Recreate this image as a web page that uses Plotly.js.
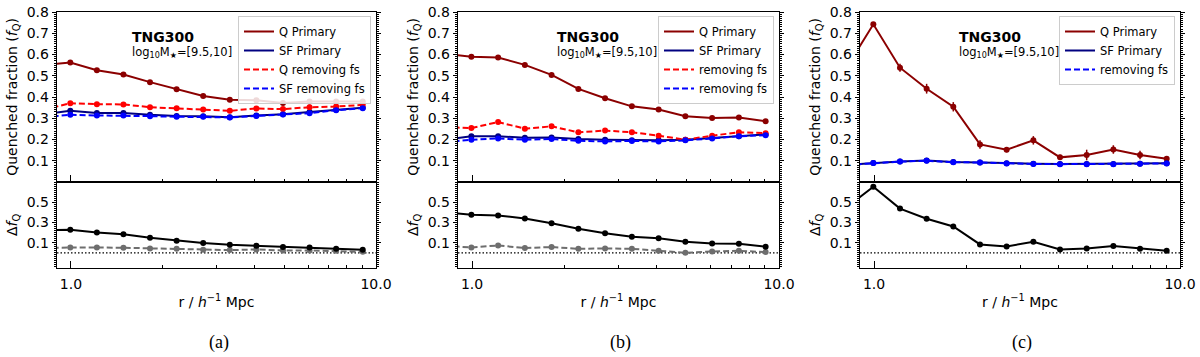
<!DOCTYPE html>
<html>
<head>
<meta charset="utf-8">
<script src="https://cdn.plot.ly/plotly-3.0.1.min.js"></script>
<style>html,body{margin:0;padding:0;background:#fff;}#chart{width:1200px;height:357px;}</style>
</head>
<body>
<div id="chart"></div>
<script>
// ---- data ----
const rBins = [0.814, 0.995, 1.216, 1.486, 1.816, 2.220, 2.713, 3.317, 4.054, 4.955, 6.056, 7.402, 9.046];

// panel (a)
const qPrimA = [0.55, 0.562, 0.526, 0.506, 0.470, 0.437, 0.405, 0.387, 0.385, 0.372, 0.379, 0.379, 0.379];
const qErrA  = [0, 0.006, 0.006, 0.006, 0.006, 0.006, 0.006, 0.006, 0.006, 0.006, 0.006, 0.006, 0.006];
const sfPrimA = [0.32, 0.335, 0.325, 0.325, 0.316, 0.311, 0.310, 0.305, 0.313, 0.319, 0.330, 0.340, 0.350];
const qRemA  = [0.34, 0.371, 0.366, 0.365, 0.352, 0.347, 0.341, 0.335, 0.346, 0.343, 0.352, 0.355, 0.363];
const sfRemA = [0.305, 0.316, 0.313, 0.313, 0.310, 0.307, 0.307, 0.304, 0.311, 0.318, 0.324, 0.338, 0.347];
const dPrimA = [0.225, 0.227, 0.200, 0.183, 0.150, 0.120, 0.097, 0.080, 0.070, 0.057, 0.053, 0.040, 0.030];
const dRemA  = [0.050, 0.053, 0.053, 0.050, 0.043, 0.040, 0.030, 0.027, 0.033, 0.023, 0.023, 0.020, 0.010];

// panel (b)
const qPrimB = [0.605, 0.589, 0.586, 0.551, 0.504, 0.438, 0.394, 0.356, 0.341, 0.309, 0.301, 0.304, 0.286];
const qErrB  = [0, 0.006, 0.006, 0.006, 0.006, 0.006, 0.006, 0.006, 0.006, 0.006, 0.006, 0.006, 0.006];
const sfPrimB = [0.200, 0.215, 0.215, 0.208, 0.210, 0.202, 0.199, 0.197, 0.196, 0.199, 0.208, 0.215, 0.224];
const qRemB  = [0.258, 0.254, 0.282, 0.251, 0.262, 0.234, 0.242, 0.234, 0.218, 0.199, 0.218, 0.234, 0.230];
const sfRemB = [0.187, 0.199, 0.205, 0.199, 0.202, 0.194, 0.191, 0.193, 0.191, 0.196, 0.205, 0.215, 0.220];
const dPrimB = [0.400, 0.377, 0.370, 0.340, 0.293, 0.237, 0.193, 0.160, 0.143, 0.110, 0.093, 0.090, 0.060];
const dRemB  = [0.070, 0.053, 0.073, 0.047, 0.057, 0.040, 0.043, 0.040, 0.020, 0.000, 0.013, 0.020, 0.007];

// panel (c)
const qPrimC = [0.54, 0.742, 0.538, 0.439, 0.354, 0.177, 0.152, 0.196, 0.116, 0.127, 0.153, 0.127, 0.109];
const qErrC  = [0, 0.008, 0.019, 0.023, 0.022, 0.020, 0.012, 0.020, 0.012, 0.025, 0.020, 0.020, 0.010];
const sfPrimC = [0.080, 0.090, 0.097, 0.101, 0.094, 0.092, 0.088, 0.086, 0.085, 0.085, 0.085, 0.086, 0.088];
const sfRemC = [0.080, 0.089, 0.096, 0.100, 0.093, 0.092, 0.087, 0.085, 0.084, 0.084, 0.084, 0.086, 0.087];
const dPrimC = [0.450, 0.653, 0.437, 0.337, 0.260, 0.083, 0.063, 0.110, 0.033, 0.043, 0.067, 0.040, 0.020];

const topTicks = [0.1, 0.2, 0.3, 0.4, 0.5, 0.6, 0.7, 0.8];
const botTicks = [0.1, 0.3, 0.5];
const xTicks = [1, 10];
const xTickText = ['1.0', '10.0'];
const xMinor = [2, 3, 4, 5, 6, 7, 8, 9];
const captions = ['(a)', '(b)', '(c)'];
const legendNames = [
  ['Q Primary', 'SF Primary', 'Q removing fs', 'SF removing fs'],
  ['Q Primary', 'SF Primary', 'removing fs', 'removing fs'],
  ['Q Primary', 'SF Primary', null, 'removing fs']
];

// ---- layout helpers ----
const W = 1200, H = 357;
const px = x => x / W;
const py = y => 1 - y / H;
const FONT = 'DejaVu Sans';
const panels = [{x0: 57, x1: 376}, {x0: 458, x1: 779}, {x0: 860, x1: 1180}];
const yTop = [py(182), py(12)];
const yBot = [py(268), py(182)];

const COL_Q = '#8b0000', COL_SF = '#000080', COL_QR = '#ff0000', COL_SFR = '#0000ff', COL_G = '#6e6e6e';
const DASH = '6px,3px';

const layout = {
  width: W, height: H,
  margin: {l: 0, r: 0, t: 0, b: 0},
  paper_bgcolor: '#fff', plot_bgcolor: '#fff',
  font: {family: FONT, size: 14, color: '#000'},
  showlegend: true,
  annotations: [], shapes: []
};

const data = [];
const panelData = [
  {q: qPrimA, qe: qErrA, sf: sfPrimA, qr: qRemA, sfr: sfRemA, d: dPrimA, dr: dRemA},
  {q: qPrimB, qe: qErrB, sf: sfPrimB, qr: qRemB, sfr: sfRemB, d: dPrimB, dr: dRemB},
  {q: qPrimC, qe: qErrC, sf: sfPrimC, qr: null, sfr: sfRemC, d: dPrimC, dr: null}
];

function addSeries(xa, ya, y, color, dash, name, lg, err) {
  data.push({
    x: rBins, y: y, xaxis: xa, yaxis: ya, type: 'scatter', mode: 'lines',
    name: name || '', legend: lg, showlegend: !!name,
    line: {color: color, width: 2, dash: dash || 'solid'}
  });
  const m = {
    x: rBins, y: y, xaxis: xa, yaxis: ya, type: 'scatter', mode: 'markers',
    showlegend: false, marker: {color: color, size: 6}
  };
  if (err) m.error_y = {type: 'data', array: err, visible: true, color: color, thickness: 1.5, width: 0};
  data.push(m);
}

panels.forEach((p, k) => {
  const it = 2 * k + 1, ib = 2 * k + 2;
  const xt = 'x' + it, yt = 'y' + it, xb = 'x' + ib, yb = 'y' + ib;
  const dom = [px(p.x0), px(p.x1)];
  const xCommon = {
    domain: dom, type: 'log', range: [Math.log10(0.9), 1],
    tickmode: 'array', tickvals: xTicks, ticktext: xTickText,
    ticks: 'inside', ticklen: 7, tickwidth: 1, tickcolor: '#000',
    minor: {tickmode: 'array', tickvals: xMinor, ticks: 'inside', ticklen: 3.5, tickwidth: 1, tickcolor: '#000'},
    showline: true, linecolor: '#000', linewidth: 1.3, mirror: true,
    showgrid: false, zeroline: false, automargin: false,
    tickfont: {family: FONT, size: 14}
  };
  layout['xaxis' + it] = Object.assign({}, xCommon, {anchor: yt, showticklabels: false});
  layout['xaxis' + ib] = Object.assign({}, xCommon, {
    anchor: yb, showticklabels: true, ticklabelstandoff: 3,
    title: {text: 'r / <i>h</i><sup>−1</sup> Mpc', font: {family: FONT, size: 14}, standoff: 6}
  });
  const yCommon = {
    ticks: 'outside', ticklen: 4, tickwidth: 1, tickcolor: '#000',
    showline: true, linecolor: '#000', linewidth: 1.3, mirror: 'ticks',
    showgrid: false, zeroline: false, automargin: false,
    tickfont: {family: FONT, size: 14}
  };
  layout['yaxis' + it] = Object.assign({}, yCommon, {
    domain: yTop, anchor: xt, range: [0, 0.8],
    tickmode: 'array', tickvals: topTicks, ticktext: topTicks.map(v => v.toFixed(1)),
    minor: {tick0: 0, dtick: 0.01, ticks: 'outside', ticklen: 2, tickwidth: 1, tickcolor: '#000'},
    title: {text: 'Quenched fraction (<i>f</i><sub>Q</sub>)', font: {family: FONT, size: 14}, standoff: 5}
  });
  layout['yaxis' + ib] = Object.assign({}, yCommon, {
    domain: yBot, anchor: xb, range: [-0.15, 0.7],
    tickmode: 'array', tickvals: botTicks, ticktext: botTicks.map(v => v.toFixed(1)),
    minor: {tick0: 0, dtick: 0.02, ticks: 'outside', ticklen: 2, tickwidth: 1, tickcolor: '#000'},
    title: {text: 'Δ<i>f</i><sub>Q</sub>', font: {family: FONT, size: 14}, standoff: 5}
  });

  const lg = k === 0 ? 'legend' : 'legend' + (k + 1);
  layout[lg] = {
    x: px(p.x1 - 5), xanchor: 'right', y: py(16), yanchor: 'top',
    bgcolor: 'rgba(255,255,255,0.85)', bordercolor: '#cccccc', borderwidth: 1,
    font: {family: FONT, size: 11.5}, itemwidth: 30, tracegroupgap: 0,
    traceorder: 'normal'
  };

  const pd = panelData[k];
  const names = legendNames[k];
  addSeries(xt, yt, pd.q, COL_Q, null, names[0], lg, pd.qe);
  addSeries(xt, yt, pd.sf, COL_SF, null, names[1], lg, null);
  if (pd.qr) addSeries(xt, yt, pd.qr, COL_QR, DASH, names[2], lg, null);
  addSeries(xt, yt, pd.sfr, COL_SFR, DASH, names[3], lg, null);
  if (pd.dr) addSeries(xb, yb, pd.dr, COL_G, DASH, null, lg, null);
  addSeries(xb, yb, pd.d, '#000', null, null, lg, null);

  layout.shapes.push({
    type: 'line', xref: xb + ' domain', yref: yb, x0: 0, x1: 1, y0: 0, y1: 0,
    line: {color: '#000', width: 1.3, dash: '1.5px,2px'}, layer: 'below'
  });

  layout.annotations.push({
    xref: 'paper', yref: 'paper', x: px((p.x0 + p.x1) / 2 + 2), y: py(342),
    text: captions[k], showarrow: false, font: {family: 'Liberation Serif', size: 18},
    xanchor: 'center', yanchor: 'middle'
  });
  const tx = p.x0 + (k === 0 ? 75 : 99);
  layout.annotations.push({
    xref: 'paper', yref: 'paper', x: px(tx), y: py(37.5),
    text: '<b>TNG300</b>', showarrow: false, font: {family: FONT, size: 14},
    xanchor: 'left', yanchor: 'middle', xshift: -2
  });
  layout.annotations.push({
    xref: 'paper', yref: 'paper', x: px(tx), y: py(52),
    text: 'log<sub>10</sub>M<sub>★</sub>=[9.5,10]', showarrow: false, font: {family: FONT, size: 11.5},
    xanchor: 'left', yanchor: 'middle', xshift: -2
  });
});

Plotly.newPlot('chart', data, layout, {staticPlot: true, displayModeBar: false});
</script>
</body>
</html>
